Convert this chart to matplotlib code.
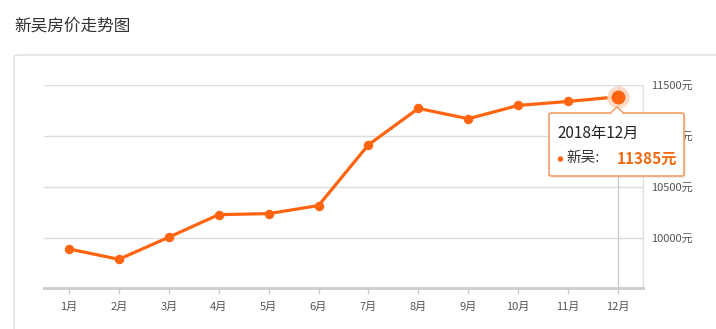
import matplotlib
matplotlib.use("Agg")
import matplotlib.pyplot as plt
from matplotlib.patches import FancyBboxPatch, Polygon, Ellipse

plt.rcParams['font.family'] = ['Noto Sans CJK SC', 'DejaVu Sans']

# data
months = ["1月", "2月", "3月", "4月", "5月", "6月", "7月", "8月", "9月", "10月", "11月", "12月"]
prices = [9895, 9794, 10010, 10231, 10241, 10320, 10915, 11271, 11170, 11300, 11339, 11385]
yticks = [10000, 10500, 11000, 11500]
ytick_labels = ["10000元", "10500元", "11000元", "11500元"]
title = "新吴房价走势图"
tip_date = "2018年12月"
tip_name = "新吴:"
tip_value = "11385元"

W, H = 716, 329
ORANGE = "#ff6410"


def px(x, y):
    # pixel position -> figure fraction
    return x / W, 1 - y / H


fig = plt.figure(figsize=(W / 100, H / 100), dpi=100)
fig.patch.set_facecolor("white")

# card border (runs off the right and bottom edges)
card = FancyBboxPatch(px(14, 400), (800 - 14) / W, (400 - 55) / H,
                      boxstyle="round,pad=0,rounding_size=0.008",
                      transform=fig.transFigure, facecolor="none",
                      edgecolor="#dddddd", linewidth=1)
fig.patches.append(card)

fig.text(*px(14, 26), title, fontsize=12, color="#333333", va="center", ha="left")

left, top = px(44, 85)
right, bottom = px(643, 288)
ax = fig.add_axes([left, bottom, right - left, top - bottom])

x = list(range(1, len(months) + 1))
ax.plot(x, prices, color=ORANGE, linewidth=2.3, marker="o", markersize=5.8,
        zorder=3, clip_on=False)

# highlighted last point
ax.plot(x[-1], prices[-1], marker="o", markersize=15, color="#fcd9c2",
        alpha=0.9, zorder=4, clip_on=False)
ax.plot(x[-1], prices[-1], marker="o", markersize=9, color=ORANGE,
        zorder=5, clip_on=False)

# crosshair
ax.axvline(x[-1], color="#cccccc", linewidth=1, zorder=1)

ax.set_xlim(0.5, 12.5)
ax.set_ylim(9513, 11500)
ax.set_xticks(x)
ax.set_xticklabels(months)
ax.set_yticks(yticks)
ax.set_yticklabels(ytick_labels)
ax.yaxis.tick_right()
ax.grid(axis="y", color="#dddddd", linewidth=1)
ax.set_axisbelow(True)

for s in ["top", "left"]:
    ax.spines[s].set_visible(False)
ax.spines["right"].set_color("#e2e2e2")
ax.spines["right"].set_linewidth(1)
ax.spines["bottom"].set_color("#cccccc")
ax.spines["bottom"].set_linewidth(2)

ax.tick_params(axis="x", length=4, width=1, color="#cccccc", labelsize=8,
               labelcolor="#555555", pad=6)
ax.tick_params(axis="y", length=0, labelsize=8, labelcolor="#555555", pad=6)

# tooltip
bx0, by0 = px(549, 176)
bx1, by1 = px(684, 113)
shadow = FancyBboxPatch((bx0 + 2 / W, by0 - 2 / H), bx1 - bx0, by1 - by0,
                        boxstyle="round,pad=0,rounding_size=0.004",
                        transform=fig.transFigure, facecolor="#00000014",
                        edgecolor="none", zorder=5)
fig.patches.append(shadow)
box = FancyBboxPatch((bx0, by0), bx1 - bx0, by1 - by0,
                     boxstyle="round,pad=0,rounding_size=0.004",
                     transform=fig.transFigure, facecolor="white",
                     edgecolor="#f3a06a", linewidth=1.2, zorder=6)
fig.patches.append(box)
arrow = Polygon([px(610, 113.6), px(617, 107), px(624, 113.6)],
                closed=False, transform=fig.transFigure, facecolor="white",
                edgecolor="#f3a06a", linewidth=1.2, zorder=7)
fig.patches.append(arrow)
fig.patches.append(Polygon([px(611, 114.3), px(617, 108.5), px(623, 114.3)],
                           closed=True, transform=fig.transFigure,
                           facecolor="white", edgecolor="none", zorder=7))

fig.text(*px(557, 133), tip_date, fontsize=11, color="#222222",
         va="center", ha="left", zorder=8)
fig.patches.append(Ellipse(px(560.5, 159), 5.5 / W, 5.5 / H,
                           transform=fig.transFigure, facecolor=ORANGE,
                           edgecolor="none", zorder=8))
fig.text(*px(566, 158.5), tip_name, fontsize=10.5, color="#333333",
         va="center", ha="left", zorder=8)
fig.text(*px(617, 158.5), tip_value, fontsize=11, color="#f06a10",
         fontweight="semibold", va="center", ha="left", zorder=8)

fig.savefig("out.png", dpi=100)
